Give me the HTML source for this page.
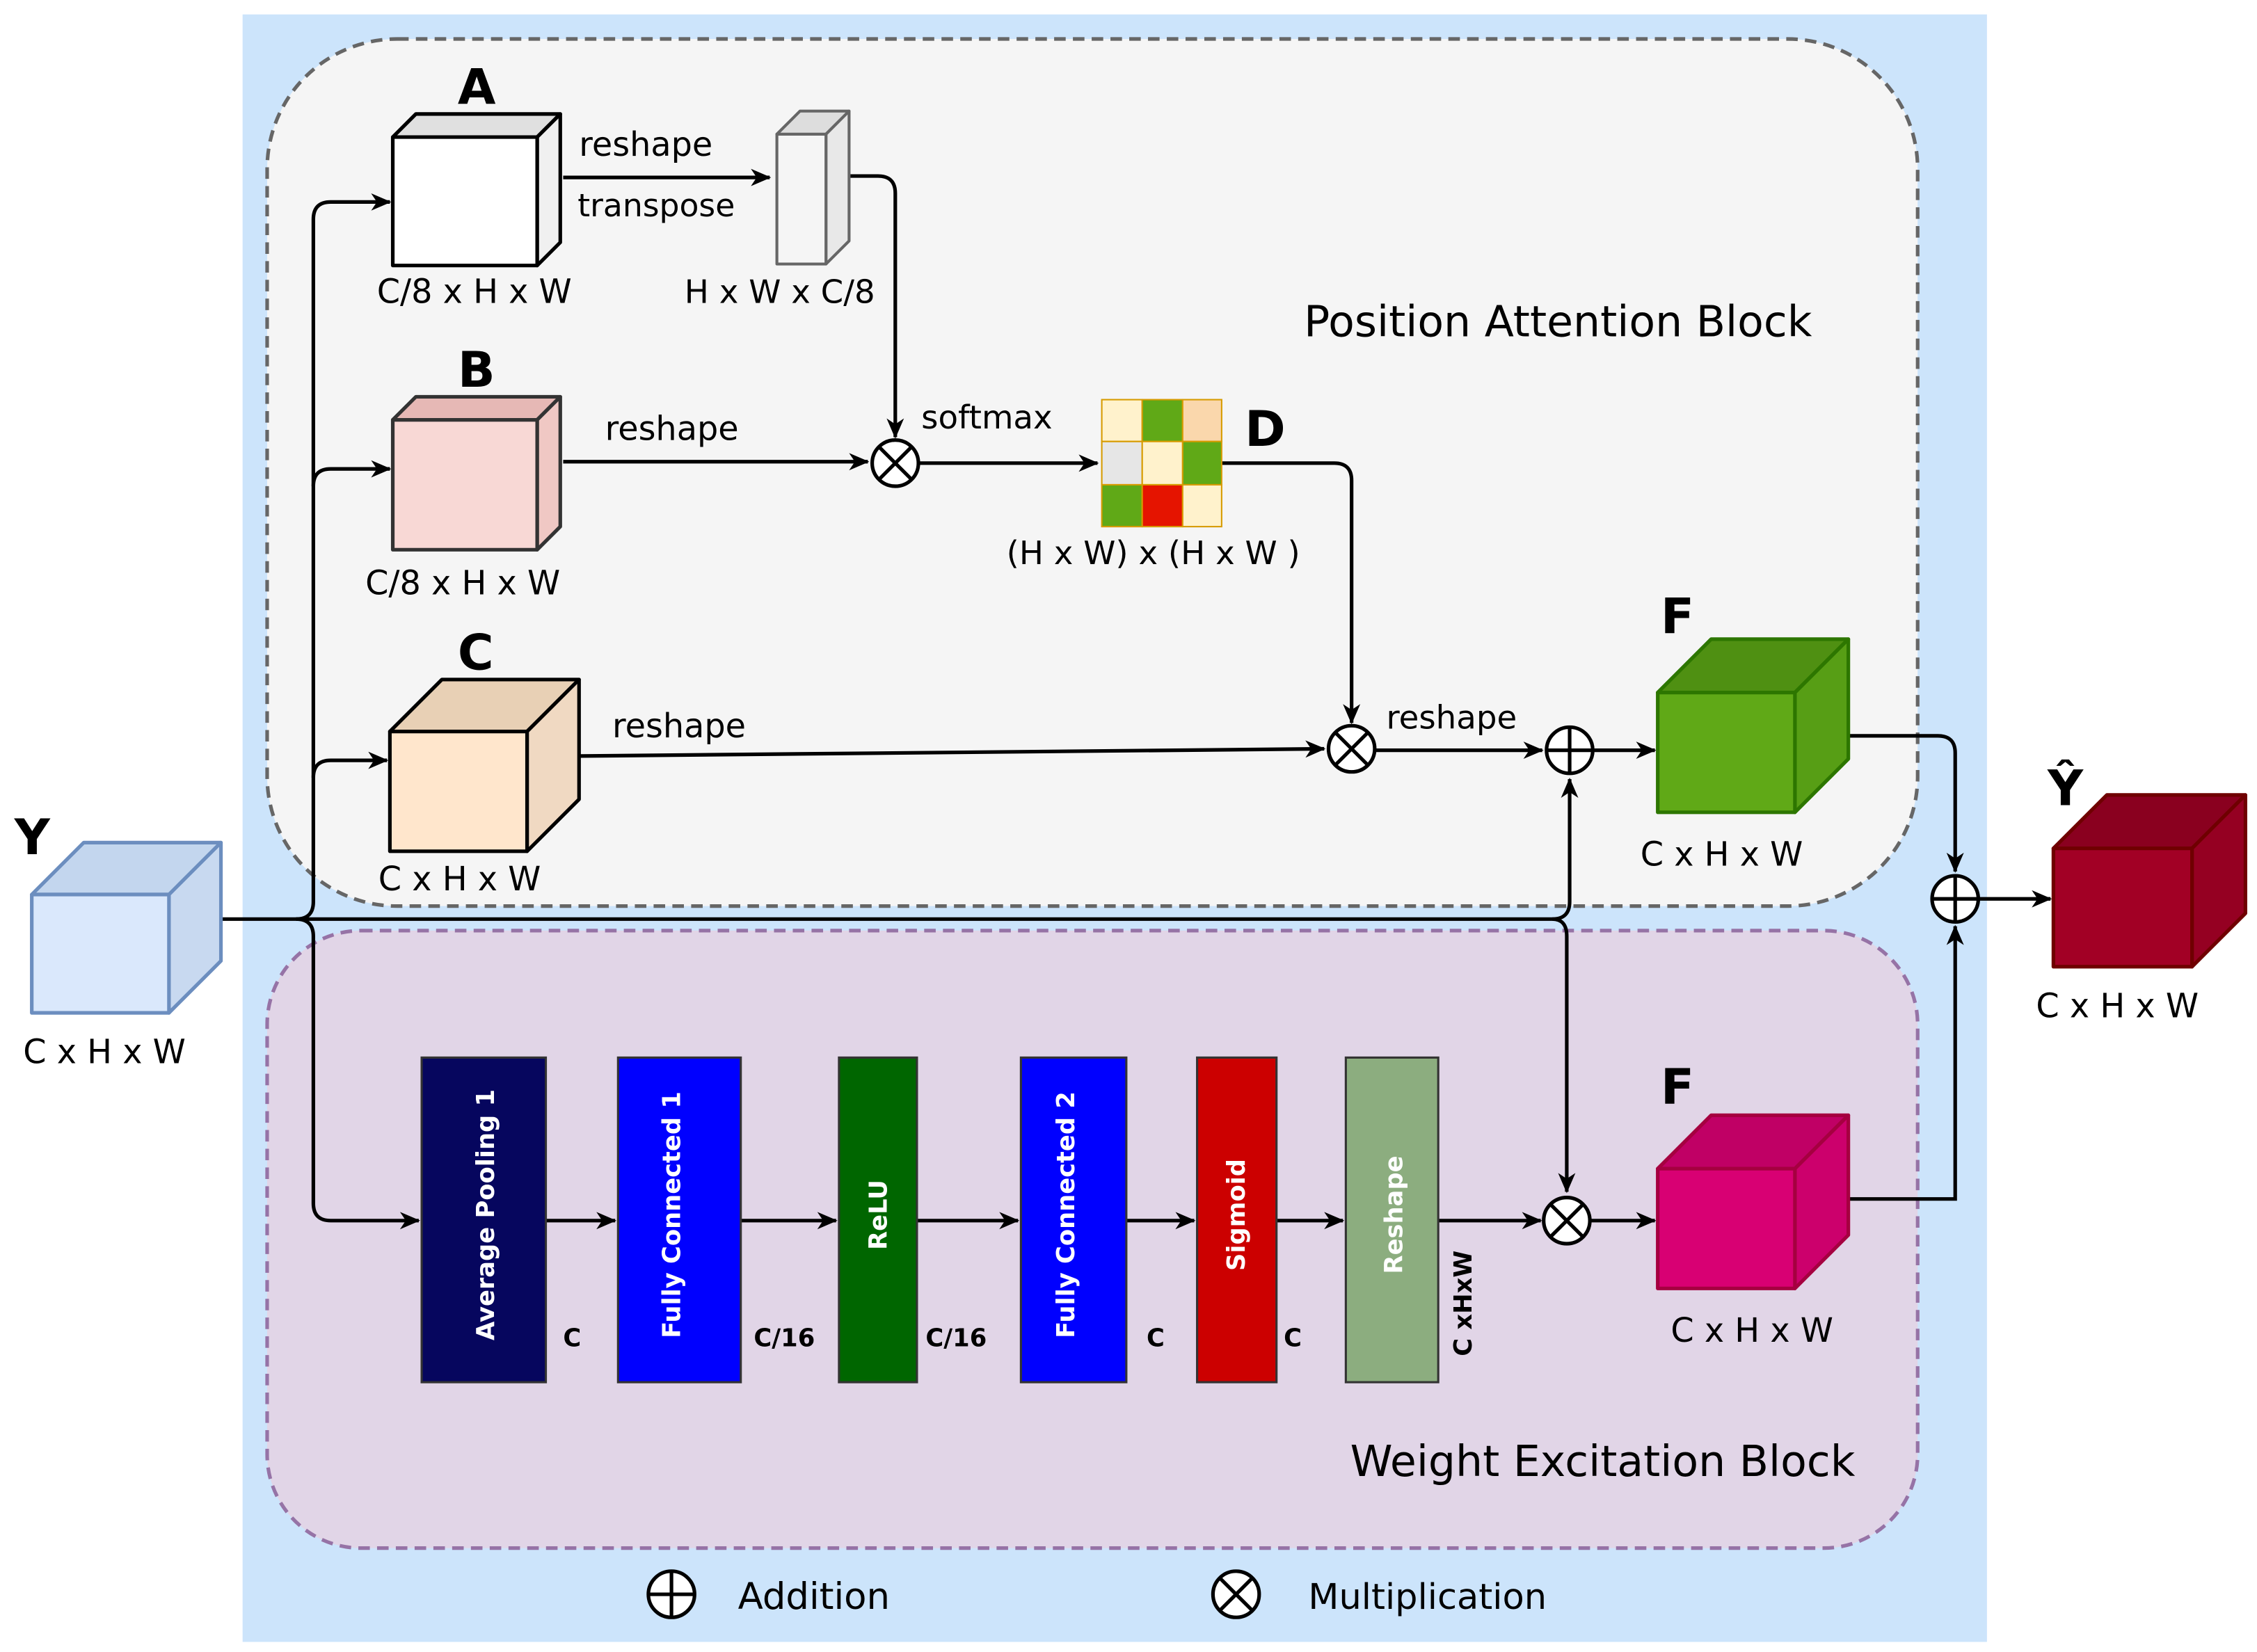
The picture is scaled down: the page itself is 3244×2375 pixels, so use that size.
<!DOCTYPE html>
<html><head><meta charset="utf-8"><style>
html,body{margin:0;padding:0;background:#fff;}
svg{display:block;}
text{font-family:"DejaVu Sans","Liberation Sans",sans-serif;}
</style></head><body>
<svg width="3244" height="2375" viewBox="0 0 1563 1145" preserveAspectRatio="none" xmlns="http://www.w3.org/2000/svg">
<defs>
<marker id="ar" markerWidth="14" markerHeight="14" refX="13" refY="6" orient="auto" markerUnits="userSpaceOnUse" viewBox="0 0 14 12">
<path d="M0,0 L14,6 L0,12 L4,6 Z" fill="#000"/></marker>
</defs>
<rect x="0" y="0" width="1563" height="1145" fill="#fff"/>
<rect x="168" y="10" width="1208" height="1128" fill="#cce4fb"/>
<rect x="185" y="27" width="1143" height="601" rx="90" fill="#f5f5f5" stroke="#666" stroke-width="2.5" stroke-dasharray="8,5"/>
<rect x="185" y="645" width="1143" height="428" rx="65" fill="#e1d5e7" stroke="#9673a6" stroke-width="2.5" stroke-dasharray="8,5"/>

<g fill="none" stroke="#000" stroke-width="2.5">
<path d="M153,637 H1075 Q1087,637 1087,625 V540" marker-end="url(#ar)"/>
<path d="M1075,637 Q1085,637 1085,649 V826" marker-end="url(#ar)"/>
<path d="M205,637 Q217,637 217,625 V152 Q217,140 229,140 H270" marker-end="url(#ar)"/>
<path d="M217,337 Q217,325 229,325 H270" marker-end="url(#ar)"/>
<path d="M217,539 Q217,527 229,527 H268" marker-end="url(#ar)"/>
<path d="M205,637 Q217,637 217,649 V834 Q217,846 229,846 H290" marker-end="url(#ar)"/>
<path d="M378,846 H426" marker-end="url(#ar)"/>
<path d="M513,846 H579" marker-end="url(#ar)"/>
<path d="M635,846 H705" marker-end="url(#ar)"/>
<path d="M780,846 H827" marker-end="url(#ar)"/>
<path d="M884,846 H930" marker-end="url(#ar)"/>
<path d="M996,846 H1067" marker-end="url(#ar)"/>
<path d="M1101,846 H1146" marker-end="url(#ar)"/>
<path d="M390,123 H533" marker-end="url(#ar)"/>
<path d="M588,122 H608 Q620,122 620,134 V303" marker-end="url(#ar)"/>
<path d="M390,320 H601" marker-end="url(#ar)"/>
<path d="M637,321 H760" marker-end="url(#ar)"/>
<path d="M846,321 H924 Q936,321 936,333 V501" marker-end="url(#ar)"/>
<path d="M402,524 L917,519" marker-end="url(#ar)"/>
<path d="M953,520 H1068" marker-end="url(#ar)"/>
<path d="M1103,520 H1146" marker-end="url(#ar)"/>
<path d="M1281,510 H1342 Q1354,510 1354,522 V604" marker-end="url(#ar)"/>
<path d="M1281,831 H1354 V642" marker-end="url(#ar)"/>
<path d="M1370,623 H1420" marker-end="url(#ar)"/>
</g>

<g stroke-width="2.5" stroke-linejoin="round">
<g stroke="#6c8ebf"><polygon points="22,620 58,584 153,584 117,620" fill="#c3d6ee"/><polygon points="117,620 153,584 153,666 117,702" fill="#c8d9f0"/><rect x="22" y="620" width="95" height="82" fill="#dae8fc"/></g>
<g stroke="#000"><polygon points="272,95 288,79 388,79 372,95" fill="#e0e0e0"/><polygon points="372,95 388,79 388,168 372,184" fill="#f0f0f0"/><rect x="272" y="95" width="100" height="89" fill="#fff"/></g>
<g stroke="#666" stroke-width="2"><polygon points="538,93 554,77 588,77 572,93" fill="#ddd"/><polygon points="572,93 588,77 588,167 572,183" fill="#e8e8e8"/><rect x="538" y="93" width="34" height="90" fill="#f5f5f5"/></g>
<g stroke="#333"><polygon points="272,291 288,275 388,275 372,291" fill="#e6b8b5"/><polygon points="372,291 388,275 388,365 372,381" fill="#f0c8c4"/><rect x="272" y="291" width="100" height="90" fill="#f8d8d5"/></g>
<g stroke="#000"><polygon points="270,507 306,471 401,471 365,507" fill="#e8d0b5"/><polygon points="365,507 401,471 401,554 365,590" fill="#f0d9c2"/><rect x="270" y="507" width="95" height="83" fill="#ffe6cc"/></g>
<g stroke="#2d7600"><polygon points="1148,480 1185,443 1280,443 1243,480" fill="#4f9012"/><polygon points="1243,480 1280,443 1280,526 1243,563" fill="#579e15"/><rect x="1148" y="480" width="95" height="83" fill="#60a917"/></g>
<g stroke="#a50040"><polygon points="1148,810 1185,773 1280,773 1243,810" fill="#c00065"/><polygon points="1243,810 1280,773 1280,856 1243,893" fill="#cc006c"/><rect x="1148" y="810" width="95" height="83" fill="#d80073"/></g>
<g stroke="#6f0000"><polygon points="1422,588 1459,551 1555,551 1518,588" fill="#8a001f"/><polygon points="1518,588 1555,551 1555,633 1518,670" fill="#950022"/><rect x="1422" y="588" width="96" height="82" fill="#a20025"/></g>
</g>

<g stroke="#d79b00" stroke-width="1">
<rect x="763" y="277" width="28" height="29" fill="#fff2cc"/><rect x="791" y="277" width="28" height="29" fill="#60a917"/><rect x="819" y="277" width="27" height="29" fill="#fad7ac"/>
<rect x="763" y="306" width="28" height="30" fill="#e6e6e6"/><rect x="791" y="306" width="28" height="30" fill="#fff2cc"/><rect x="819" y="306" width="27" height="30" fill="#60a917"/>
<rect x="763" y="336" width="28" height="29" fill="#60a917"/><rect x="791" y="336" width="28" height="29" fill="#e51400"/><rect x="819" y="336" width="27" height="29" fill="#fff2cc"/>
</g>

<g stroke="#333" stroke-width="1.5">
<rect x="292" y="733" width="86" height="225" fill="#06065e"/>
<rect x="428" y="733" width="85" height="225" fill="#0000ff"/>
<rect x="581" y="733" width="54" height="225" fill="#006600"/>
<rect x="707" y="733" width="73" height="225" fill="#0000ff"/>
<rect x="829" y="733" width="55" height="225" fill="#cc0000"/>
<rect x="932" y="733" width="64" height="225" fill="#8cad7f"/>
</g>
<g fill="#fff" font-weight="bold" font-size="17" text-anchor="middle">
<text transform="translate(342,842) rotate(-90)">Average Pooling 1</text>
<text transform="translate(471,842) rotate(-90)">Fully Connected 1</text>
<text transform="translate(614,842) rotate(-90)">ReLU</text>
<text transform="translate(744,842) rotate(-90)">Fully Connected 2</text>
<text transform="translate(862,842) rotate(-90)">Sigmoid</text>
<text transform="translate(971,842) rotate(-90)">Reshape</text>
</g>
<g font-weight="bold" font-size="17" fill="#000">
<text x="390" y="933">C</text><text x="522" y="933">C/16</text><text x="641" y="933">C/16</text>
<text x="794" y="933">C</text><text x="889" y="933">C</text>
<text transform="translate(1019,940) rotate(-90)">C xHxW</text>
</g>

<g fill="#fff" stroke="#000" stroke-width="2.5">
<g><circle cx="620" cy="321" r="16"/><path d="M609,310 L631,332 M631,310 L609,332"/></g>
<g><circle cx="936" cy="519" r="16"/><path d="M925,508 L947,530 M947,508 L925,530"/></g>
<g><circle cx="1085" cy="846" r="16"/><path d="M1074,835 L1096,857 M1096,835 L1074,857"/></g>
<g><circle cx="856" cy="1105" r="16"/><path d="M845,1094 L867,1116 M867,1094 L845,1116"/></g>
<g><circle cx="1087" cy="520" r="16"/><path d="M1071,520 H1103 M1087,504 V536"/></g>
<g><circle cx="1354" cy="623" r="16"/><path d="M1338,623 H1370 M1354,607 V639"/></g>
<g><circle cx="465" cy="1105" r="16"/><path d="M449,1105 H481 M465,1089 V1121"/></g>
</g>

<g fill="#000" font-size="23">
<text x="16" y="737">C x H x W</text>
<text x="261" y="210">C/8 x H x W</text>
<text x="474" y="210" font-size="22.5">H x W x C/8</text>
<text x="253" y="412">C/8 x H x W</text>
<text x="262" y="617">C x H x W</text>
<text x="697" y="391" font-size="22.5">(H x W) x (H x W )</text>
<text x="1136" y="600">C x H x W</text>
<text x="1157" y="930">C x H x W</text>
<text x="1410" y="705">C x H x W</text>
<text x="401" y="108">reshape</text>
<text x="400" y="150" font-size="22">transpose</text>
<text x="419" y="305">reshape</text>
<text x="638" y="297" font-size="22.5">softmax</text>
<text x="424" y="511">reshape</text>
<text x="960" y="505" font-size="22.5">reshape</text>
<text x="511" y="1115" font-size="25.5">Addition</text>
<text x="906" y="1115" font-size="24.6">Multiplication</text>
<text x="903" y="233" font-size="29.7">Position Attention Block</text>
<text x="935" y="1023" font-size="29.7">Weight Excitation Block</text>
</g>
<g fill="#000" font-size="34" font-weight="bold">
<text x="317" y="72">A</text><text x="317" y="268">B</text><text x="317" y="464">C</text>
<text x="862" y="309">D</text><text x="1150" y="439">F</text><text x="1150" y="765">F</text>
<text x="10" y="592">Y</text><text x="1418" y="558">Ŷ</text>
</g>
</svg>
</body></html>
